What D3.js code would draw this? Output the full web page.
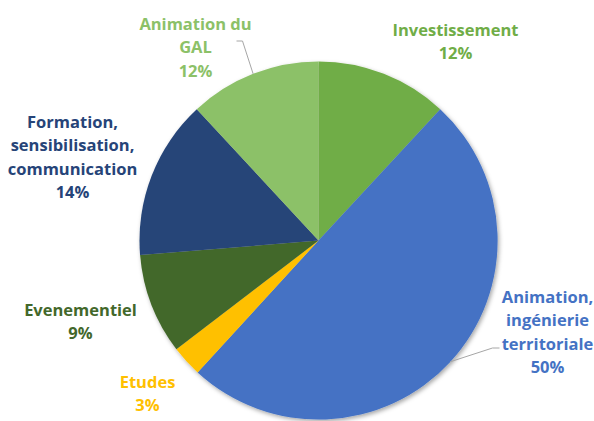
<!DOCTYPE html>
<meta charset="utf-8">
<style>
body { margin: 0; background: #fff; }
.labels text { font-family: "Open Sans", sans-serif; font-weight: 700; font-size: 16.5px; }
.leaders polyline { fill: none; stroke: #a6a6a6; stroke-width: 1; }
</style>
<body>
<svg width="594" height="421"></svg>
<script src="https://d3js.org/d3.v7.min.js"></script>
<script>

// data, clockwise from 12 o'clock
var categories = ["Investissement", "Animation, ingénierie territoriale", "Etudes",
                  "Evenementiel", "Formation, sensibilisation, communication", "Animation du GAL"];
var values = [11.9, 49.9, 2.8, 9.1, 14.4, 11.9];
var labelLines = [
  ["Investissement"],
  ["Animation,", "ingénierie", "territoriale"],
  ["Etudes"],
  ["Evenementiel"],
  ["Formation,", "sensibilisation,", "communication"],
  ["Animation du", "GAL"]
];
var colors = ["#70ad47", "#4472c4", "#ffc000", "#43682b", "#264478", "#8cc168"];

var svg = d3.select("svg"),
    cx = 318.5, cy = 240.5, radius = 179;

// label layout (baseline of first line, relative to pie centre)
var labelPos = [[137, -205], [229, 62], [-171, 147], [-238, 75], [-246, -113], [-123, -211]];
var lineH = 23.5;

var defs = svg.append("defs");
var f = defs.append("filter").attr("id", "shadow")
    .attr("x", "-10%").attr("y", "-10%").attr("width", "120%").attr("height", "120%");
f.append("feDropShadow").attr("dx", 1.5).attr("dy", 2).attr("stdDeviation", 2)
    .attr("flood-color", "#000").attr("flood-opacity", 0.35);

var pie = d3.pie().sort(null).value(function(d) { return d; });
var arc = d3.arc().innerRadius(0).outerRadius(radius);
var arcs = pie(values);
var total = d3.sum(values);
var pct = function(v) { return Math.round(v / total * 100) + "%"; };

var g = svg.append("g").attr("transform", "translate(" + cx + "," + cy + ")");

g.append("g").attr("filter", "url(#shadow)")
  .selectAll("path")
  .data(arcs)
  .enter().append("path")
    .attr("d", arc)
    .style("fill", function(d, i) { return colors[i]; });

// leader lines: from the middle of the slice edge to the label
function edgePoint(i) {
  var a = (arcs[i].startAngle + arcs[i].endAngle) / 2;
  return [Math.sin(a) * radius, -Math.cos(a) * radius];
}
var leaderData = [
  { pts: [edgePoint(1), [174, 107.5], [181, 107.5]] },
  { pts: [edgePoint(5), [-76, -199.5], [-82, -199.5]] }
];
g.append("g").attr("class", "leaders")
  .selectAll("polyline")
  .data(leaderData)
  .enter().append("polyline")
    .attr("points", function(d) { return d.pts.map(function(p) { return p.join(","); }).join(" "); });

var lab = g.append("g").attr("class", "labels")
  .selectAll("text")
  .data(arcs)
  .enter().append("text")
    .attr("text-anchor", "middle")
    .attr("x", function(d, i) { return labelPos[i][0]; })
    .attr("y", function(d, i) { return labelPos[i][1]; })
    .style("fill", function(d, i) { return colors[i]; });

lab.each(function(d, i) {
  var t = d3.select(this);
  var lines = labelLines[i].concat([pct(d.value)]);
  lines.forEach(function(s, k) {
    t.append("tspan").attr("x", labelPos[i][0]).attr("dy", k ? lineH : 0).text(s);
  });
});

</script>
</body>
</html>
